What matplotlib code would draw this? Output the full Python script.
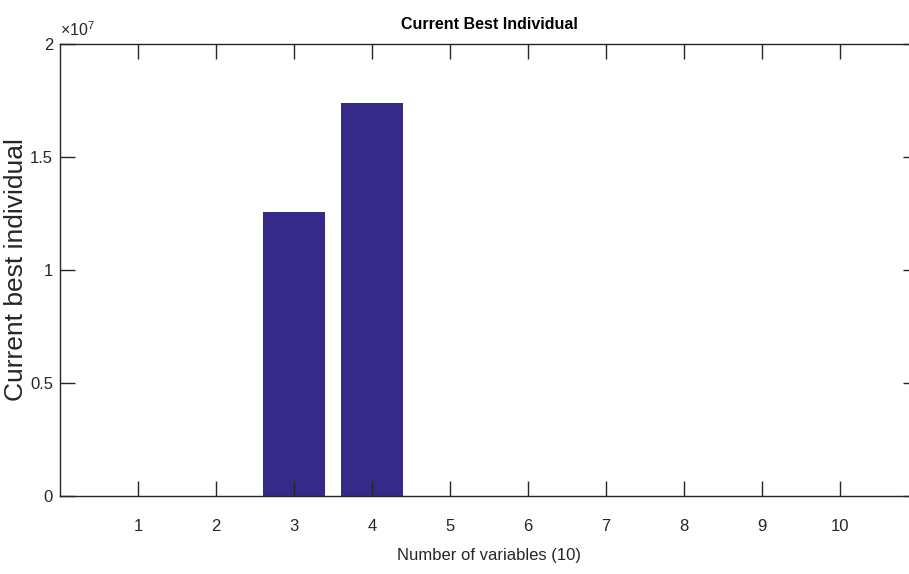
import matplotlib
matplotlib.use("Agg")
import matplotlib.pyplot as plt
from matplotlib.ticker import FixedLocator, FuncFormatter

# ---- data ----
variables = [1, 2, 3, 4, 5, 6, 7, 8, 9, 10]
best_individual = [0, 0, 1.258e7, 1.738e7, 0, 0, 0, 0, 0, 0]
x_ticks = [1, 2, 3, 4, 5, 6, 7, 8, 9, 10]
y_ticks = [0, 0.5e7, 1.0e7, 1.5e7, 2.0e7]
title = "Current Best Individual"
xlabel = "Number of variables (10)"
ylabel = "Current best individual"

FAM = ["Liberation Sans", "DejaVu Sans"]
plt.rcParams["font.family"] = FAM
plt.rcParams["mathtext.fontset"] = "custom"
plt.rcParams["mathtext.rm"] = "Liberation Sans"
plt.rcParams["mathtext.it"] = "Liberation Sans"

axc = "#262626"
fig = plt.figure(figsize=(9.09, 5.74), dpi=100)
ax = fig.add_axes([60 / 909, (574 - 496) / 574, (918 - 60) / 909, (496 - 44) / 574])

ax.bar(variables, best_individual, width=0.8, color="#352a87", edgecolor="none")

ax.set_xlim(0, 11)
ax.set_ylim(0, 2e7)
ax.xaxis.set_major_locator(FixedLocator(x_ticks))
ax.yaxis.set_major_locator(FixedLocator(y_ticks))
ax.yaxis.set_major_formatter(FuncFormatter(lambda v, p: f"{v/1e7:g}"))

for s in ax.spines.values():
    s.set_color(axc)
    s.set_linewidth(1.0)
ax.tick_params(direction="in", length=10.5, width=1.0, color=axc, labelcolor=axc,
               labelsize=12, top=True, right=True)
ax.tick_params(axis="x", pad=16.5)
ax.tick_params(axis="y", pad=5)

ax.set_title(title, fontsize=11.5, fontweight="bold", color="black", pad=11)
ax.set_xlabel(xlabel, fontsize=12, color=axc, labelpad=10)
ax.set_ylabel(ylabel, fontsize=19, color=axc, labelpad=1.5)

ax.text(0.0, 1.01, r"$\times10^{7}$", transform=ax.transAxes, fontsize=11.5,
        color=axc, ha="left", va="bottom")

fig.savefig("out.png", dpi=100)
